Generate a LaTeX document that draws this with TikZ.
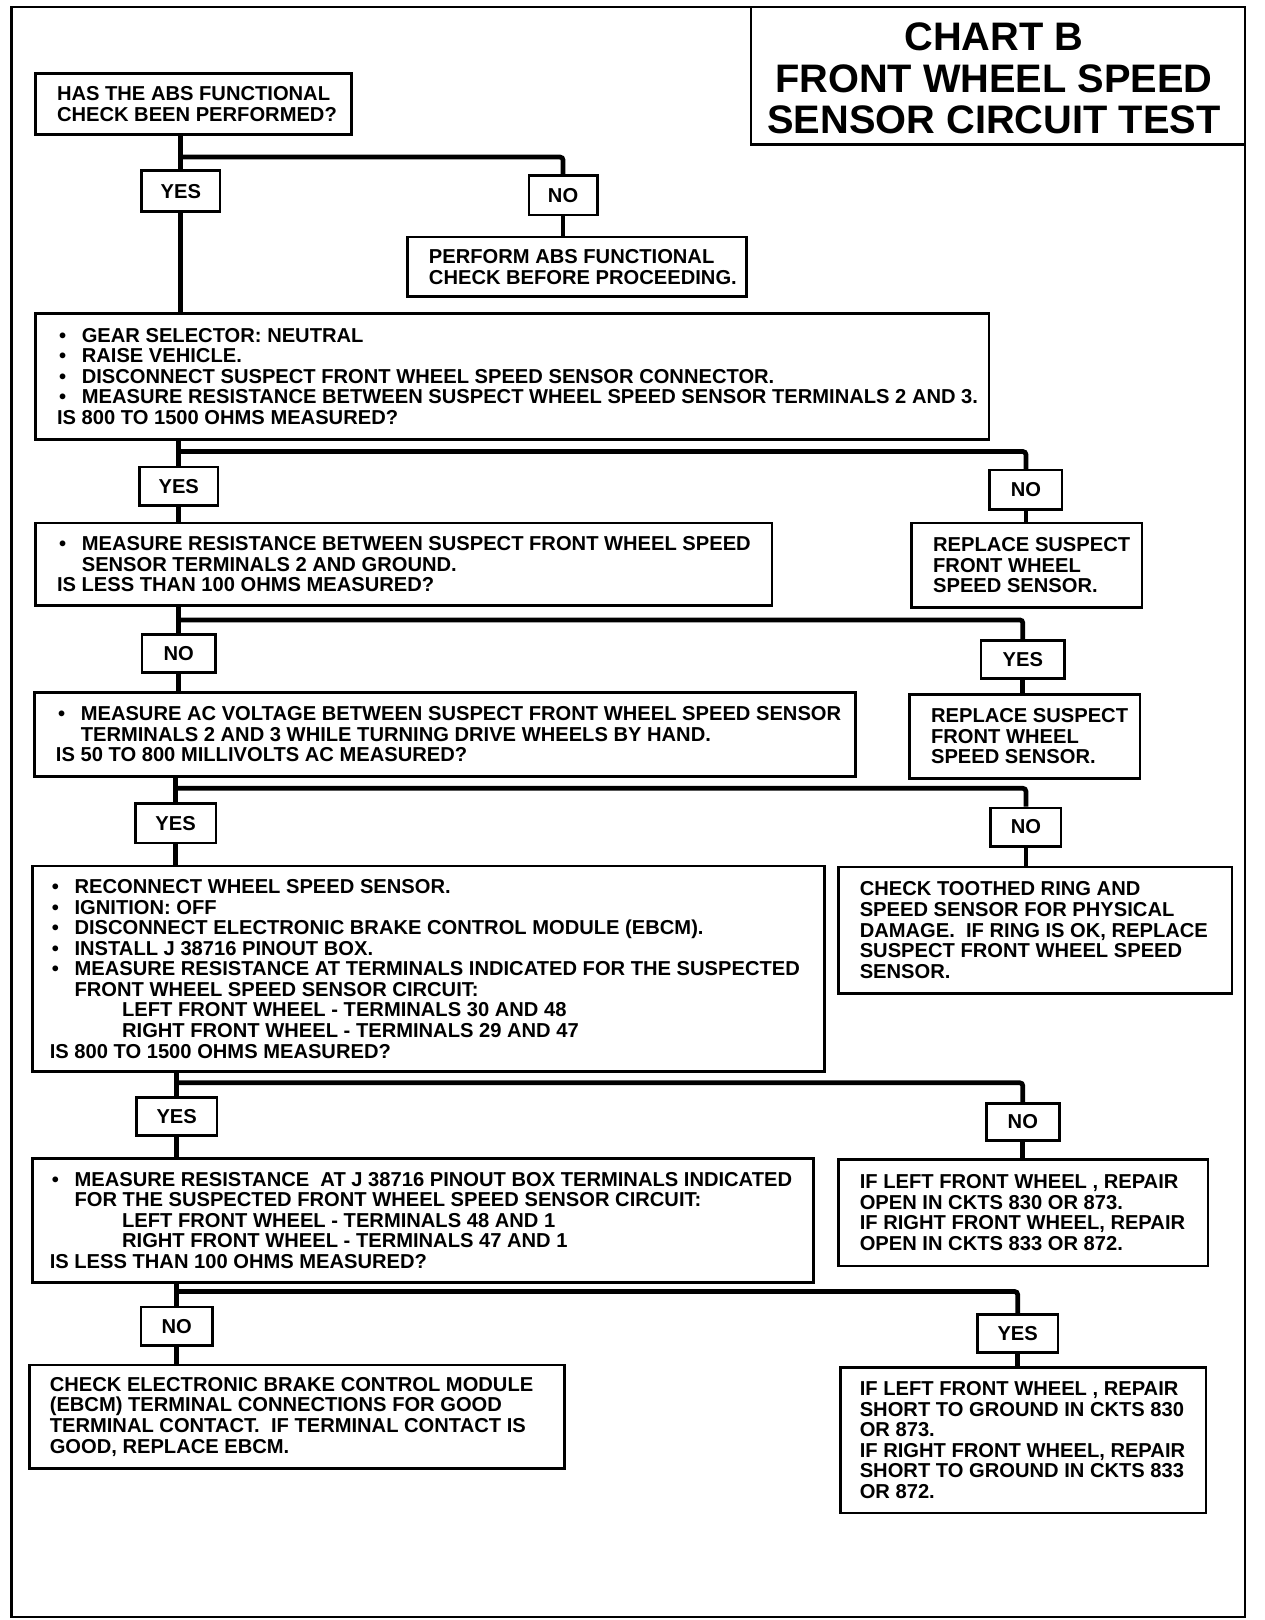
\documentclass[tikz,border=0pt]{standalone}
\usepackage{fontspec}
\setmainfont{Liberation Sans}
\newcommand{\bl}{\makebox[24pt][l]{\hspace{2pt}•}}
\newcommand{\ind}{\hspace*{24pt}}
\newcommand{\indd}{\hspace*{70pt}}
\tikzset{
  txt/.style={font=\bfseries\fontsize{19.5}{19.9}\selectfont},
  boxs/.style={draw, line width=2.6pt, anchor=north west, inner sep=0pt},
  txtn/.style={anchor=west, align=left, inner sep=0pt, txt},
  lbl/.style={draw, line width=2.6pt, inner sep=0pt, txt},
  conn/.style={line width=4.6pt, rounded corners=3pt},
}
% \tb{name}{x}{y}{w}{h}{pad}{text}
\newcommand{\tb}[7]{%
  \node[boxs, minimum width=#4pt, minimum height=#5pt] (#1) at (#2,#3) {};
  \node[txtn] (#1t) at ([xshift=#6pt]#1.west) {#7};}
\begin{document}
\begin{tikzpicture}[x=1pt,y=-1pt]
\useasboundingbox (0,0) rectangle (1224,1568);
% outer frame
\draw[line width=2.4pt] (11,7) rectangle (1205,1565);
% title
\draw[line width=2.4pt] (727,7) -- (727,140) -- (1205,140);
\node[font=\bfseries\fontsize{38.5}{40}\selectfont, align=center] (title) at (962,76) {CHART B\\FRONT WHEEL SPEED\\SENSOR CIRCUIT TEST};

% boxes  (x,y) = north west corner
\tb{b1}{33}{70}{306}{59}{22}{HAS THE ABS FUNCTIONAL\\CHECK BEEN PERFORMED?}
\tb{bp}{393}{228}{328}{58}{22}{PERFORM ABS FUNCTIONAL\\CHECK BEFORE PROCEEDING.}
\tb{b3}{33}{302}{923}{122}{22}{\bl GEAR SELECTOR: NEUTRAL\\\bl RAISE VEHICLE.\\\bl DISCONNECT SUSPECT FRONT WHEEL SPEED SENSOR CONNECTOR.\\\bl MEASURE RESISTANCE BETWEEN SUSPECT WHEEL SPEED SENSOR TERMINALS 2 AND 3.\\IS 800 TO 1500 OHMS MEASURED?}
\tb{r1}{881}{505}{223}{82}{22}{REPLACE SUSPECT\\FRONT WHEEL\\SPEED SENSOR.}
\tb{b4}{33}{505}{713}{80}{22}{\bl MEASURE RESISTANCE BETWEEN SUSPECT FRONT WHEEL SPEED\\\ind SENSOR TERMINALS 2 AND GROUND.\\IS LESS THAN 100 OHMS MEASURED?}
\tb{r2}{879}{671}{223}{81}{22}{REPLACE SUSPECT\\FRONT WHEEL\\SPEED SENSOR.}
\tb{b5}{32}{669}{795}{81}{22}{\bl MEASURE AC VOLTAGE BETWEEN SUSPECT FRONT WHEEL SPEED SENSOR\\\ind TERMINALS 2 AND 3 WHILE TURNING DRIVE WHEELS BY HAND.\\IS 50 TO 800 MILLIVOLTS AC MEASURED?}
\tb{r3}{810}{838}{381}{122}{22}{CHECK TOOTHED RING AND\\SPEED SENSOR FOR PHYSICAL\\DAMAGE.\ \ IF RING IS OK, REPLACE\\SUSPECT FRONT WHEEL SPEED\\SENSOR.}
\tb{b6}{30}{837}{767}{199}{18}{\bl RECONNECT WHEEL SPEED SENSOR.\\\bl IGNITION: OFF\\\bl DISCONNECT ELECTRONIC BRAKE CONTROL MODULE (EBCM).\\\bl INSTALL J 38716 PINOUT BOX.\\\bl MEASURE RESISTANCE AT TERMINALS INDICATED FOR THE SUSPECTED\\\ind FRONT WHEEL SPEED SENSOR CIRCUIT:\\\indd LEFT FRONT WHEEL - TERMINALS 30 AND 48\\\indd RIGHT FRONT WHEEL - TERMINALS 29 AND 47\\IS 800 TO 1500 OHMS MEASURED?}
\tb{r4}{810}{1121}{358}{103}{22}{IF LEFT FRONT WHEEL , REPAIR\\OPEN IN CKTS 830 OR 873.\\IF RIGHT FRONT WHEEL, REPAIR\\OPEN IN CKTS 833 OR 872.}
\tb{b7}{30}{1120}{756}{120}{18}{\bl MEASURE RESISTANCE\ \ AT J 38716 PINOUT BOX TERMINALS INDICATED\\\ind FOR THE SUSPECTED FRONT WHEEL SPEED SENSOR CIRCUIT:\\\indd LEFT FRONT WHEEL - TERMINALS 48 AND 1\\\indd RIGHT FRONT WHEEL - TERMINALS 47 AND 1\\IS LESS THAN 100 OHMS MEASURED?}
\tb{r5}{812}{1322}{354}{141}{20}{IF LEFT FRONT WHEEL , REPAIR\\SHORT TO GROUND IN CKTS 830\\OR 873.\\IF RIGHT FRONT WHEEL, REPAIR\\SHORT TO GROUND IN CKTS 833\\OR 872.}
\tb{b8}{27}{1320}{518}{100}{21}{CHECK ELECTRONIC BRAKE CONTROL MODULE\\(EBCM) TERMINAL CONNECTIONS FOR GOOD\\TERMINAL CONTACT.\ \ IF TERMINAL CONTACT IS\\GOOD, REPLACE EBCM.}

% yes / no labels
\node[lbl, minimum width=76pt, minimum height=40pt] (y1) at (175,185) {YES};
\node[lbl, minimum width=66pt, minimum height=38pt] (n1) at (545,189) {NO};
\node[lbl, minimum width=76pt, minimum height=37pt] (y2) at (173,470.5) {YES};
\node[lbl, minimum width=70pt, minimum height=38pt] (n2) at (993,474) {NO};
\node[lbl, minimum width=71pt, minimum height=37pt] (n3) at (173,632.5) {NO};
\node[lbl, minimum width=81pt, minimum height=37pt] (y3) at (990,638.5) {YES};
\node[lbl, minimum width=78pt, minimum height=38pt] (y4) at (170,797) {YES};
\node[lbl, minimum width=68pt, minimum height=37pt] (n4) at (993,800.5) {NO};
\node[lbl, minimum width=78pt, minimum height=37pt] (y5) at (171,1080.5) {YES};
\node[lbl, minimum width=71pt, minimum height=36pt] (n5) at (990,1086) {NO};
\node[lbl, minimum width=69pt, minimum height=37pt] (n6) at (171,1283.5) {NO};
\node[lbl, minimum width=78pt, minimum height=37pt] (y6) at (985,1290.5) {YES};

% junctions
\coordinate (j1) at (175,152);
\coordinate (j2) at (173,437);
\coordinate (j3) at (173,600);
\coordinate (j4) at (170,763);
\coordinate (j5) at (171,1048);
\coordinate (j6) at (171,1250);

% connectors
\draw[conn] (b1.south -| y1) -- (y1.north);
\draw[conn] (j1) -| (n1.north);
\draw[conn] (n1.south) -- (n1.south |- bp.north);
\draw[conn] (y1.south) -- (y1.south |- b3.north);

\draw[conn] (b3.south -| y2) -- (y2.north);
\draw[conn] (j2) -| (n2.north);
\draw[conn] (n2.south) -- (n2.south |- r1.north);
\draw[conn] (y2.south) -- (y2.south |- b4.north);

\draw[conn] (b4.south -| n3) -- (n3.north);
\draw[conn] (j3) -| (y3.north);
\draw[conn] (y3.south) -- (y3.south |- r2.north);
\draw[conn] (n3.south) -- (n3.south |- b5.north);

\draw[conn] (b5.south -| y4) -- (y4.north);
\draw[conn] (j4) -| (n4.north);
\draw[conn] (n4.south) -- (n4.south |- r3.north);
\draw[conn] (y4.south) -- (y4.south |- b6.north);

\draw[conn] (b6.south -| y5) -- (y5.north);
\draw[conn] (j5) -| (n5.north);
\draw[conn] (n5.south) -- (n5.south |- r4.north);
\draw[conn] (y5.south) -- (y5.south |- b7.north);

\draw[conn] (b7.south -| n6) -- (n6.north);
\draw[conn] (j6) -| (y6.north);
\draw[conn] (y6.south) -- (y6.south |- r5.north);
\draw[conn] (n6.south) -- (n6.south |- b8.north);
\end{tikzpicture}
\end{document}
